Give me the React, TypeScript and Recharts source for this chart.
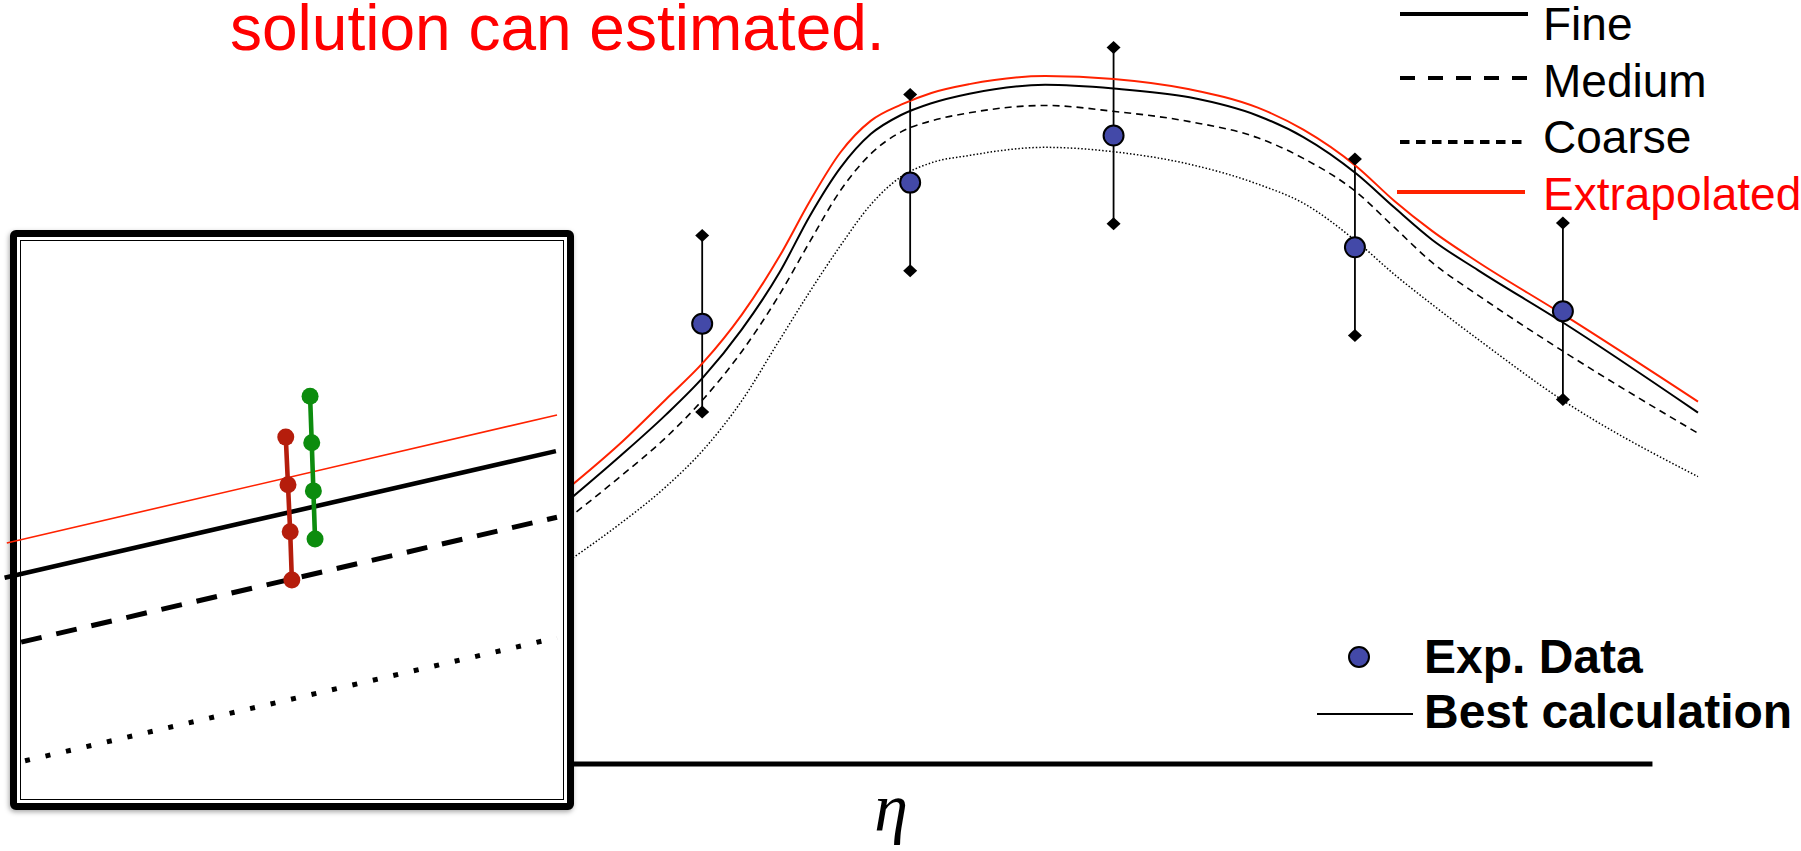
import React from 'react';
import { ComposedChart, LineChart, Line, Scatter, XAxis, YAxis, ErrorBar, ReferenceLine } from 'recharts';

// ---- main plot: solution along eta for three meshes plus the extrapolated one ----
const etaGrid = [2.55, 2.9, 3.2, 3.45, 3.7, 3.95, 4.15, 4.35, 4.55, 4.75, 4.95, 5.2, 5.7, 6.15, 6.65, 7.1, 7.4, 7.75, 8.0, 8.25, 8.55, 9.1, 10.0];
const fineMesh = [3.57, 4.19, 4.75, 5.27, 5.91, 6.69, 7.46, 8.11, 8.57, 8.83, 8.99, 9.12, 9.24, 9.19, 9.07, 8.82, 8.53, 8.03, 7.57, 7.13, 6.72, 6.02, 4.78];
const mediumMesh = [3.33, 3.91, 4.44, 4.97, 5.61, 6.39, 7.11, 7.8, 8.3, 8.6, 8.75, 8.86, 8.96, 8.88, 8.74, 8.52, 8.24, 7.78, 7.3, 6.82, 6.38, 5.63, 4.5];
const coarseMesh = [2.75, 3.27, 3.77, 4.28, 4.94, 5.77, 6.43, 7.05, 7.61, 7.99, 8.18, 8.28, 8.39, 8.33, 8.16, 7.89, 7.63, 7.11, 6.66, 6.25, 5.78, 4.96, 3.91];
const extrapolated = [3.74, 4.36, 4.96, 5.47, 6.11, 6.91, 7.66, 8.32, 8.75, 8.97, 9.13, 9.25, 9.36, 9.32, 9.18, 8.93, 8.63, 8.13, 7.66, 7.25, 6.83, 6.13, 4.93];

// experimental points with their uncertainty
const expEta = [3.44, 4.81, 6.15, 7.74, 9.11];
const expValue = [5.99, 7.91, 8.55, 7.03, 6.16];
const expError = [1.2, 1.2, 1.2, 1.2, 1.2];

// visible extent of the eta axis
const etaAxisEnd = 9.7;

// ---- magnified view: local slopes of each solution and the two uncertainty bands ----
const zoomExtrapX = [0.04, 10.0];
const zoomExtrapY = [4.59, 6.875];
const zoomFineX = [0, 9.98];
const zoomFineY = [3.97, 6.23];
const zoomMediumX = [0.3, 10.0];
const zoomMediumY = [2.82, 5.05];
const zoomCoarseX = [0.37, 10.0];
const zoomCoarseY = [0.7, 2.9];
const redBandX = [5.09, 5.13, 5.17, 5.2];
const redBandY = [6.48, 5.63, 4.79, 3.93];
const greenBandX = [5.53, 5.56, 5.59, 5.62];
const greenBandY = [7.21, 6.38, 5.52, 4.66];

const curveRows = etaGrid.map((eta, i) => ({
  eta,
  fine: fineMesh[i],
  medium: mediumMesh[i],
  coarse: coarseMesh[i],
  extrap: extrapolated[i],
}));

const expRows = expEta.map((eta, i) => ({
  eta,
  value: expValue[i],
  err: expError[i],
  hi: expValue[i] + expError[i],
  lo: expValue[i] - expError[i],
}));

const pairRows = (xs: number[], ys: number[]) => xs.map((x, i) => ({ x, y: ys[i] }));

const RED = '#ff2200';
const EXP_BLUE = '#4349a8';
const SANS = '"Liberation Sans", Arial, Helvetica, sans-serif';

const ExpDot = (p: any) => (
  <circle cx={p.cx} cy={p.cy} r={10} fill={EXP_BLUE} stroke="#000" strokeWidth={2} />
);

const Diamond = (p: any) => {
  const { cx, cy } = p;
  return (
    <polygon
      points={`${cx - 7},${cy} ${cx},${cy - 6.5} ${cx + 7},${cy} ${cx},${cy + 6.5}`}
      fill="#000"
    />
  );
};

function MainPlot() {
  return (
    <ComposedChart
      width={1801}
      height={851}
      data={curveRows}
      margin={{ top: 29, right: 103, bottom: 0, left: 180 }}
    >
      <XAxis
        type="number"
        dataKey="eta"
        domain={[0, 10]}
        height={87}
        axisLine={false}
        tickLine={false}
        tick={false}
        label={{
          value: 'η',
          position: 'insideTop',
          offset: 19,
          dx: -48,
          fontSize: 68,
          fontFamily: '"Liberation Serif", "DejaVu Serif", serif',
          fontStyle: 'italic',
          fill: '#000',
        }}
      />
      <YAxis
        type="number"
        domain={[0, 10]}
        width={0}
        tick={false}
        tickLine={false}
        axisLine={{ stroke: '#000', strokeWidth: 5 }}
      />
      <ReferenceLine
        segment={[
          { x: 0, y: 0 },
          { x: etaAxisEnd, y: 0 },
        ]}
        stroke="#000"
        strokeWidth={5}
      />
      <Scatter data={expRows} dataKey="value" shape={ExpDot} isAnimationActive={false}>
        <ErrorBar dataKey="err" direction="y" width={0} stroke="#000" strokeWidth={1.8} />
      </Scatter>
      <Scatter data={expRows} dataKey="hi" shape={Diamond} isAnimationActive={false} />
      <Scatter data={expRows} dataKey="lo" shape={Diamond} isAnimationActive={false} />
      <Line type="monotone" dataKey="coarse" stroke="#000" strokeWidth={1.5} strokeDasharray="1.5 2" dot={false} isAnimationActive={false} />
      <Line type="monotone" dataKey="medium" stroke="#000" strokeWidth={1.6} strokeDasharray="7 5" dot={false} isAnimationActive={false} />
      <Line type="monotone" dataKey="fine" stroke="#000" strokeWidth={2} dot={false} isAnimationActive={false} />
      <Line type="monotone" dataKey="extrap" stroke={RED} strokeWidth={2} dot={false} isAnimationActive={false} />
    </ComposedChart>
  );
}

function ZoomPlot() {
  return (
    <LineChart width={580} height={590} margin={{ top: 8, right: 23, bottom: 22, left: 4.6 }}>
      <XAxis type="number" dataKey="x" domain={[0, 10]} hide />
      <YAxis type="number" domain={[0, 10]} hide />
      <Line data={pairRows(zoomCoarseX, zoomCoarseY)} dataKey="y" stroke="#000" strokeWidth={5} strokeDasharray="5 16" dot={false} isAnimationActive={false} />
      <Line data={pairRows(zoomMediumX, zoomMediumY)} dataKey="y" stroke="#000" strokeWidth={5} strokeDasharray="21 15" dot={false} isAnimationActive={false} />
      <Line data={pairRows(zoomFineX, zoomFineY)} dataKey="y" stroke="#000" strokeWidth={4.6} dot={false} isAnimationActive={false} />
      <Line data={pairRows(zoomExtrapX, zoomExtrapY)} dataKey="y" stroke={RED} strokeWidth={1.6} dot={false} isAnimationActive={false} />
      <Line data={pairRows(redBandX, redBandY)} dataKey="y" stroke="#b51d0c" strokeWidth={4.6} dot={{ r: 8.5, fill: '#b51d0c', stroke: 'none' }} isAnimationActive={false} />
      <Line data={pairRows(greenBandX, greenBandY)} dataKey="y" stroke="#0c8c0e" strokeWidth={4.6} dot={{ r: 8.5, fill: '#0c8c0e', stroke: 'none' }} isAnimationActive={false} />
    </LineChart>
  );
}

function Annotations() {
  const legendText = { fontFamily: SANS, fontSize: 46 } as const;
  return (
    <svg width={1801} height={851} style={{ position: 'absolute', left: 0, top: 0, pointerEvents: 'none' }}>
      <text x={230} y={50} fontFamily={SANS} fontSize={64} fill="#ff0000">
        solution can estimated.
      </text>

      <line x1={1400} y1={14} x2={1528} y2={14} stroke="#000" strokeWidth={4} />
      <text x={1543} y={40} {...legendText} fill="#000">Fine</text>

      <line x1={1400} y1={78} x2={1528} y2={78} stroke="#000" strokeWidth={4} strokeDasharray="15 13" />
      <text x={1543} y={97} {...legendText} fill="#000">Medium</text>

      <line x1={1400} y1={142} x2={1524} y2={142} stroke="#000" strokeWidth={4} strokeDasharray="9.5 6.5" />
      <text x={1543} y={153} {...legendText} fill="#000">Coarse</text>

      <line x1={1397} y1={192} x2={1525} y2={192} stroke={RED} strokeWidth={4} />
      <text x={1543} y={210} {...legendText} fill="#ff0000">Extrapolated</text>

      <circle cx={1359} cy={657} r={10} fill={EXP_BLUE} stroke="#000" strokeWidth={2} />
      <text x={1424} y={673} fontFamily={SANS} fontWeight="bold" fontSize={48} fill="#000">Exp. Data</text>

      <line x1={1317} y1={714} x2={1413} y2={714} stroke="#000" strokeWidth={2} />
      <text x={1424} y={728} fontFamily={SANS} fontWeight="bold" fontSize={48} fill="#000">Best calculation</text>
    </svg>
  );
}

export default function App() {
  return (
    <div style={{ position: 'absolute', left: 0, top: 0, width: 1801, height: 851, background: '#fff', overflow: 'hidden' }}>
      <div style={{ position: 'absolute', left: 0, top: 0 }}>
        <MainPlot />
      </div>
      <div
        style={{
          position: 'absolute',
          left: 10,
          top: 230,
          width: 564,
          height: 580,
          boxSizing: 'border-box',
          border: '7px solid #000',
          borderRadius: 6,
          background: '#fff',
          boxShadow: '-1px 2px 5px rgba(0,0,0,0.35)',
        }}
      >
        <div
          style={{
            position: 'absolute',
            left: 3,
            top: 3,
            right: 3,
            bottom: 3,
            border: '1.7px solid #000',
          }}
        />
      </div>
      <div style={{ position: 'absolute', left: 0, top: 232 }}>
        <ZoomPlot />
      </div>
      <Annotations />
    </div>
  );
}
